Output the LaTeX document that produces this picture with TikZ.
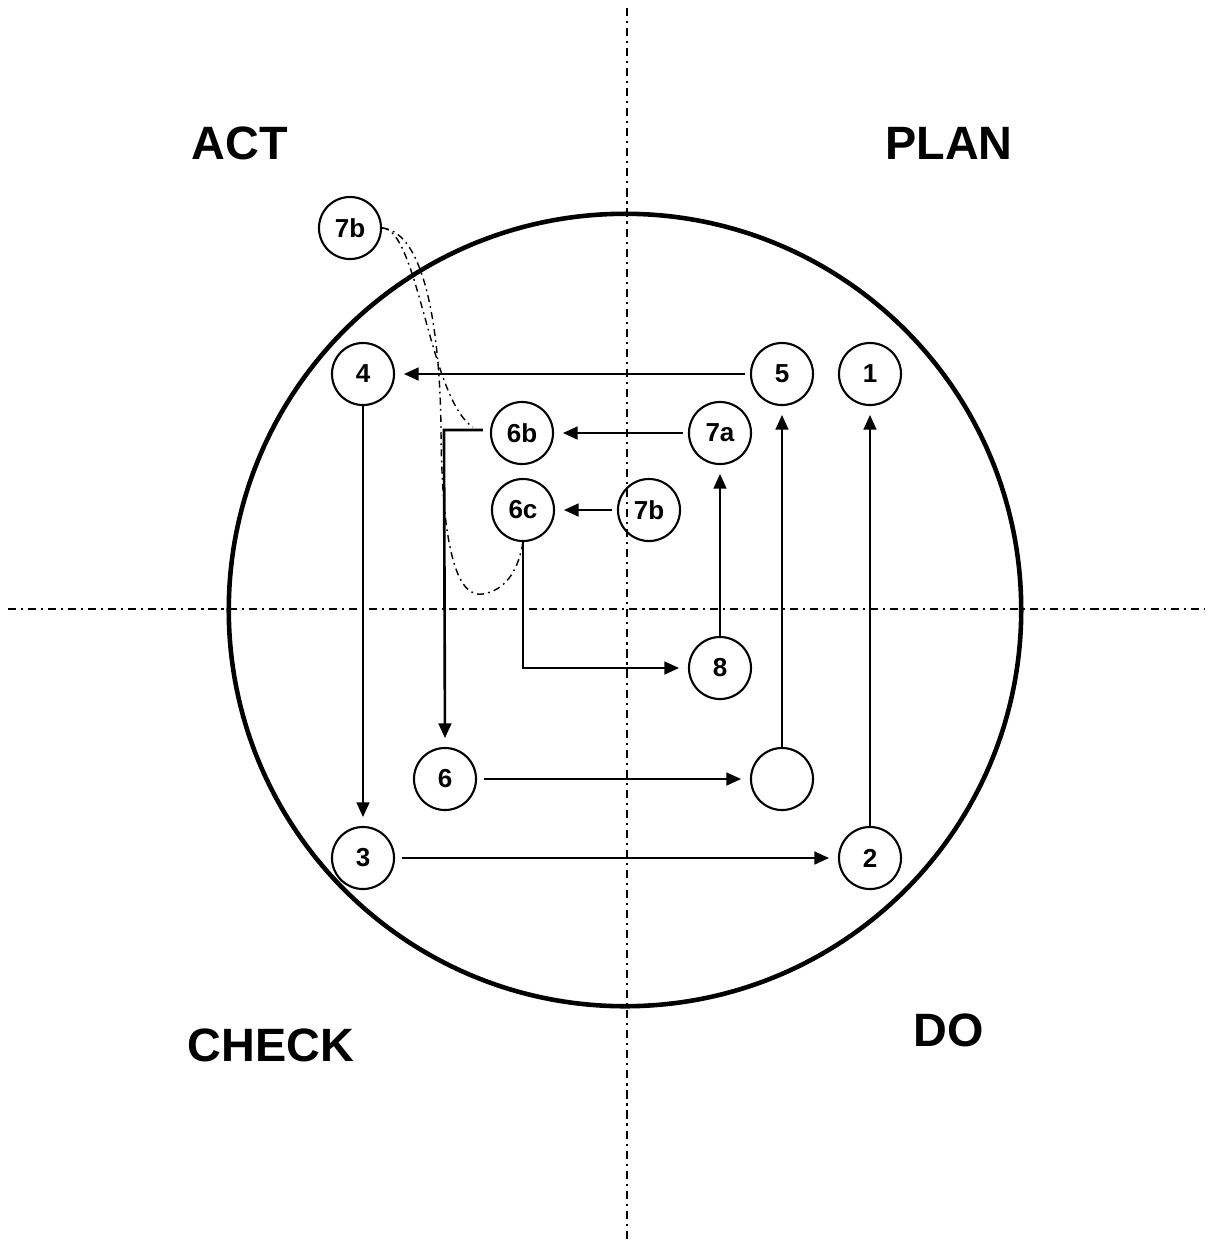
\documentclass[tikz,border=0pt]{standalone}
\usepackage{fontspec}
\setmainfont{Liberation Sans}
\usetikzlibrary{arrows.meta}
\begin{document}
\begin{tikzpicture}[x=0.01cm,y=-0.01cm,
 cnode/.style={circle,draw,line width=0.6pt,minimum size=0.62cm,inner sep=0pt,font=\fontsize{7.4}{9}\selectfont\bfseries},
 quad/.style={font=\fontsize{13.3}{16}\selectfont\bfseries,inner sep=0pt},
 conn/.style={line width=0.75pt,-{Triangle[length=4.2pt,width=3.6pt]},shorten >=2.5pt},
 axisline/.style={line width=0.55pt,dash pattern=on 2.3pt off 1.4pt on 0.6pt off 1.4pt},
 curv/.style={line width=0.4pt,dash pattern=on 2pt off 1.2pt on 0.5pt off 1.2pt}]
\useasboundingbox (0,0) rectangle (1208,1241);
% axes
\draw[axisline] (627,8) -- (627,1240);
\draw[axisline] (8,609) -- (1205,609);
% main circle
\draw[line width=1.3pt] (625,610) circle[radius=3.96cm];
% quadrant labels
\node[quad] (act) at (240,143) {ACT};
\node[quad] (plan) at (949,143) {PLAN};
\node[quad] (check) at (271,1045) {CHECK};
\node[quad] (do) at (949,1030) {DO};
% nodes
\node[cnode] (n7bt) at (350,228) {7b};
\node[cnode] (n4) at (363,374) {4};
\node[cnode] (n5) at (782,374) {5};
\node[cnode] (n1) at (870,374) {1};
\node[cnode] (n6b) at (522,433) {6b};
\node[cnode] (n7a) at (720,433) {7a};
\node[cnode] (n6c) at (523,510) {6c};
\node[cnode] (n7b) at (649,510) {7b};
\node[cnode] (n8) at (720,668) {8};
\node[cnode] (n6) at (445,779) {6};
\node[cnode] (nx) at (782,779) {};
\node[cnode] (n3) at (363,858) {3};
\node[cnode] (n2) at (870,858) {2};
% connectors
\draw[conn,shorten <=1.5pt] (n5) -- (n4);
\draw[conn,shorten <=1.5pt] (n7a) -- (n6b);
\draw[conn,shorten <=1.5pt] (n7b) -- (n6c);
\draw[conn] (n8) -- (n7a);
\draw[conn] (n6c.south) |- (n8.west);
\coordinate (c6b) at (444,430);
\draw[conn,shorten <=2pt] (n6b.west |- c6b) -- (c6b) -- (n6.north);
\draw[conn] (n4) -- (n3);
\draw[conn,shorten <=2pt] (n6) -- (nx);
\draw[conn] (nx) -- (n5);
\draw[conn,shorten <=2pt] (n3) -- (n2);
\draw[conn] (n2) -- (n1);
% dash-dot curves from top 7b
\draw[curv] (n7bt.east) .. controls (418,228) and (430,400) .. (473,427);
\draw[curv] (n7bt.east) .. controls (425,232) and (440,330) .. (441,430)
  .. controls (442,560) and (460,598) .. (483,594)
  .. controls (505,590) and (518,572) .. (n6c.south);
\end{tikzpicture}
\end{document}
